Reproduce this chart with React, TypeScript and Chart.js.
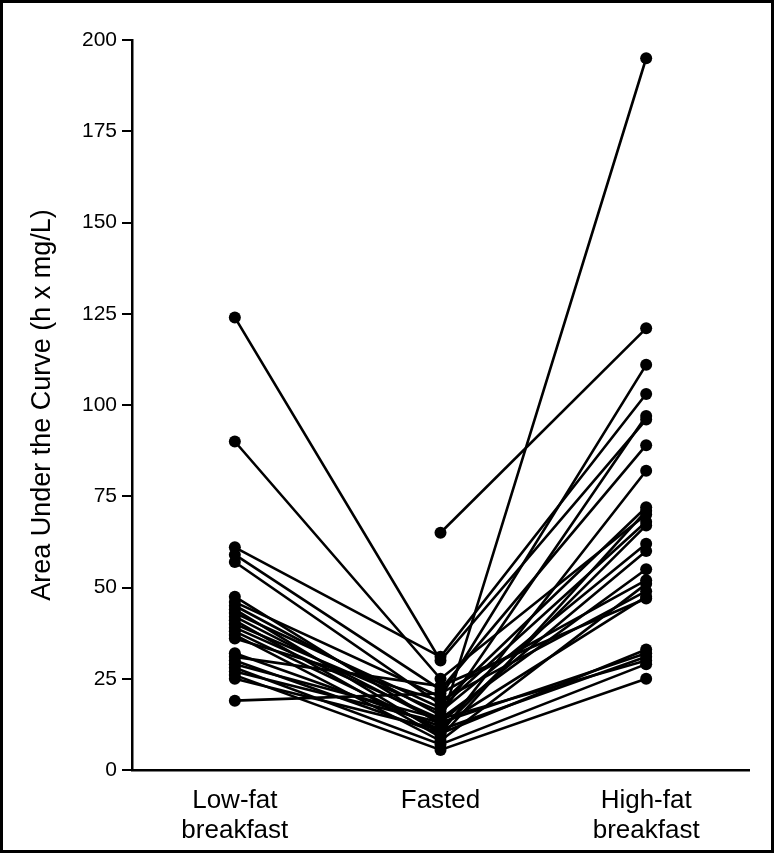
import React, { useEffect, useRef } from "react";
import { Chart, registerables } from "chart.js";

Chart.register(...registerables);

const categories: (string | string[])[] = [["Low-fat", "breakfast"], "Fasted", ["High-fat", "breakfast"]];

// one entry per subject (null = no measurement)
const lowFat: (number | null)[] = [124, 90, 61, 59, 57, null, 47.5, 46, 45, 44, 43, 42, 41, 40, 39, 38, 37, 36, 32, 31, 30, 29, 28, 27, 26, 25, 19];
const fasted: (number | null)[] = [30, 25, 31, 22, 18, 65, 12.5, 20, 15, 10, 17, 13, 9, 16, 14, 11, 8, 19, 12, 23, 10, 14, 7, 13, 5.5, 11, 21];
const highFat: (number | null)[] = [96, 70, 103, 89, 72, 121, 195, 111, 97, 82, 68, 60, 71, 62, 55, 67, 51, 49, 47.5, 47, 33, 30, 29, 32, 25, 31, 52];

const yTicks = [0, 25, 50, 75, 100, 125, 150, 175, 200];
const yTitle = "Area Under the Curve (h x mg/L)";

const FONT = "'Liberation Sans', Arial, Helvetica, sans-serif";

export default function App() {
  const ref = useRef<HTMLCanvasElement | null>(null);

  useEffect(() => {
    document.body.style.margin = "0";
    const canvas = ref.current;
    if (!canvas) return;

    const datasets = lowFat.map((_, i) => ({
      data: [lowFat[i], fasted[i], highFat[i]],
      borderColor: "#000",
      backgroundColor: "#000",
      borderWidth: 2.6,
      pointRadius: 6,
      pointBackgroundColor: "#000",
      pointBorderColor: "#000",
      pointBorderWidth: 0,
      spanGaps: false,
      tension: 0,
    }));

    const framePlugin = {
      id: "frame",
      afterDraw(chart: any) {
        const { ctx, width, height } = chart;
        ctx.save();
        ctx.strokeStyle = "#000";
        ctx.lineWidth = 3;
        ctx.strokeRect(1.5, 1.5, width - 3, height - 3);
        ctx.restore();
      },
    };

    const chart = new Chart(canvas, {
      type: "line",
      data: { labels: categories as any, datasets: datasets as any },
      plugins: [framePlugin],
      options: {
        animation: false,
        responsive: false,
        maintainAspectRatio: false,
        layout: { padding: { top: 40, right: 25, bottom: 0, left: 0 } },
        plugins: { legend: { display: false }, tooltip: { enabled: false } },
        scales: {
          x: {
            type: "category",
            offset: true,
            grid: { display: false, drawTicks: false },
            border: { display: true, color: "#000", width: 2.5 },
            ticks: {
              color: "#000",
              padding: 16,
              font: { family: FONT, size: 26, lineHeight: 1.15 },
              maxRotation: 0,
            },
            afterFit: (s: any) => {
              s.height = 83;
            },
          },
          y: {
            min: 0,
            max: 200,
            afterBuildTicks: (s: any) => {
              s.ticks = yTicks.map((v) => ({ value: v }));
            },
            grid: {
              drawOnChartArea: false,
              drawTicks: true,
              tickLength: 10,
              color: "#000",
              lineWidth: 2,
            },
            border: { display: true, color: "#000", width: 2.5 },
            ticks: {
              color: "#000",
              padding: 5,
              font: { family: FONT, size: 21 },
            },
            title: {
              display: true,
              text: yTitle,
              color: "#000",
              font: { family: FONT, size: 27 },
              padding: { top: 26, bottom: 0 },
            },
            afterFit: (s: any) => {
              s.width = 132;
            },
          },
        },
      },
    });

    return () => chart.destroy();
  }, []);

  return (
    <div style={{ width: 774, height: 853 }}>
      <canvas ref={ref} width={774} height={853} style={{ display: "block", width: 774, height: 853 }} />
    </div>
  );
}
